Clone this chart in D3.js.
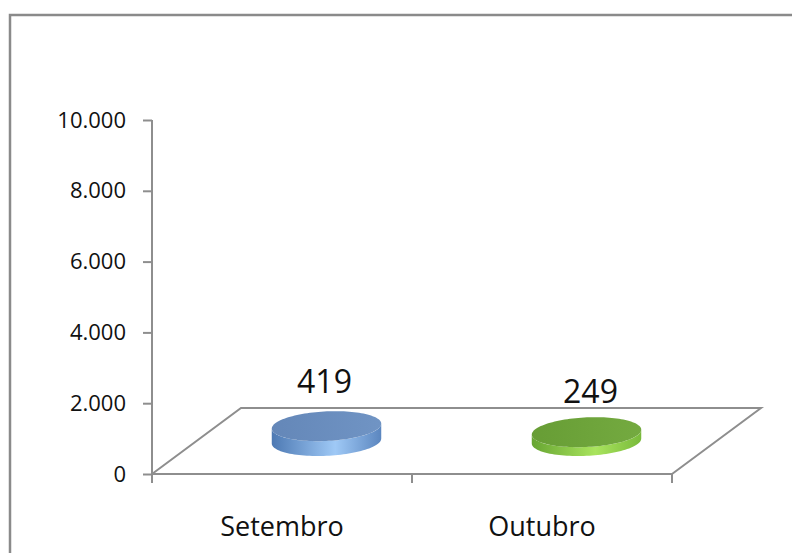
<!DOCTYPE html>
<html>
<head>
<meta charset="utf-8">
<script src="https://cdn.jsdelivr.net/npm/d3@7/dist/d3.min.js"></script>
<style>
  html, body { margin: 0; padding: 0; background: #fff; }
  svg { display: block; }
  text { font-family: "Open Sans", sans-serif; fill: #111; }
</style>
</head>
<body>
<svg id="chart" width="792" height="553"></svg>
<script>
// ---- data ----
const categories = ["Setembro", "Outubro"];
const values = [419, 249];
const valueLabels = ["419", "249"];
const yTicks = [0, 2000, 4000, 6000, 8000, 10000];
const yTickLabels = ["0", "2.000", "4.000", "6.000", "8.000", "10.000"];

// ---- layout ----
const svg = d3.select("#chart");
const W = 792, H = 553;
const x0 = 152, x1 = 672, yBase = 474, yTop = 120;
const depthX = 89, depthY = -66;

const x = d3.scaleBand().domain(categories).range([x0, x1]).paddingInner(0).paddingOuter(0);
const y = d3.scaleLinear().domain([0, 10000]).range([yBase, yTop]);

// frame
svg.append("path")
  .attr("d", `M10,${H + 5} L10,15 L${W + 5},15`)
  .attr("fill", "none").attr("stroke", "#8a8a8a").attr("stroke-width", 2.5);

const axisColor = "#8e8e8e";

// floor (3D)
svg.append("path")
  .attr("d", `M${x0},${yBase} L${x0 + depthX},${yBase + depthY} L${x1 + depthX},${yBase + depthY} L${x1},${yBase}`)
  .attr("fill", "none").attr("stroke", axisColor).attr("stroke-width", 2);

// y axis
const yAxis = d3.axisLeft(y).tickValues(yTicks).tickSize(9).tickPadding(17)
  .tickFormat((d, i) => yTickLabels[i]);
const gy = svg.append("g").attr("transform", `translate(${x0},0)`).call(yAxis);
gy.select(".domain").attr("stroke", axisColor).attr("stroke-width", 2).attr("d", `M0,${yTop}V${yBase + 9}`);
gy.selectAll(".tick line").attr("stroke", axisColor).attr("stroke-width", 2);
gy.selectAll(".tick text").attr("font-size", 22).attr("font-family", "Open Sans, sans-serif").attr("fill", "#111");

// x axis
const xAxis = d3.axisBottom(x).tickSize(0).tickPadding(43);
const gx = svg.append("g").attr("transform", `translate(0,${yBase})`).call(xAxis);
gx.select(".domain").attr("stroke", axisColor).attr("stroke-width", 2).attr("d", `M${x0},0H${x1}`);
gx.selectAll(".tick text").attr("font-size", 27).attr("font-family", "Open Sans, sans-serif").attr("fill", "#111");
// x tick marks at band boundaries
const bounds = [x0, ...categories.map(c => x(c) + x.bandwidth())];
svg.append("g").selectAll("line").data(bounds).join("line")
  .attr("x1", d => d).attr("x2", d => d)
  .attr("y1", yBase).attr("y2", yBase + 9)
  .attr("stroke", axisColor).attr("stroke-width", 2);

// ---- cylinders ----
const defs = svg.append("defs");
const palettes = [
  { side: ["#4d79b3", "#9fc9f6", "#5b86bf"], top: ["#6487b8", "#7094c4"] },
  { side: ["#67a532", "#a9e45e", "#79ba3b"], top: ["#679d35", "#74aa40"] }
];
palettes.forEach((p, i) => {
  const gs = defs.append("linearGradient").attr("id", "side" + i)
    .attr("x1", "0%").attr("x2", "100%").attr("y1", "0%").attr("y2", "0%");
  gs.append("stop").attr("offset", "0%").attr("stop-color", p.side[0]);
  gs.append("stop").attr("offset", "58%").attr("stop-color", p.side[1]);
  gs.append("stop").attr("offset", "100%").attr("stop-color", p.side[2]);
  const gt = defs.append("linearGradient").attr("id", "top" + i)
    .attr("x1", "0%").attr("x2", "100%").attr("y1", "0%").attr("y2", "0%");
  gt.append("stop").attr("offset", "0%").attr("stop-color", p.top[0]);
  gt.append("stop").attr("offset", "100%").attr("stop-color", p.top[1]);
});

const ea = 54, eb = 9, ec = 15;
const th0 = Math.atan2(eb, ea);
function pt(cx, cy, t) {
  return [cx + ea * Math.cos(t) + eb * Math.sin(t), cy - ec * Math.sin(t)];
}
function arc(cx, cy, tFrom, tTo, n) {
  const pts = [];
  for (let k = 0; k <= n; k++) pts.push(pt(cx, cy, tFrom + (tTo - tFrom) * k / n));
  return pts;
}

categories.forEach((c, i) => {
  const cx = x(c) + x.bandwidth() / 2 + depthX / 2;
  const base = yBase + depthY / 2;
  const h = yBase - y(values[i]);
  const topY = base - h;
  const tL = Math.PI + th0, tR = 2 * Math.PI + th0;
  const bottomFront = arc(cx, base, tL, tR, 60);
  const topFrontBack = arc(cx, topY, tR, tL, 60);
  const side = bottomFront.concat(topFrontBack);
  svg.append("path")
    .attr("d", "M" + side.map(p => p.join(",")).join("L") + "Z")
    .attr("fill", `url(#side${i})`);
  const topE = arc(cx, topY, 0, 2 * Math.PI, 120);
  svg.append("path")
    .attr("d", "M" + topE.map(p => p.join(",")).join("L") + "Z")
    .attr("fill", `url(#top${i})`);
  svg.append("text")
    .attr("x", cx + (i === 0 ? -2 : 4)).attr("y", topY - ec - (i === 0 ? 18 : 14))
    .attr("text-anchor", "middle")
    .attr("font-size", 32)
    .text(valueLabels[i]);
});
</script>
</body>
</html>
